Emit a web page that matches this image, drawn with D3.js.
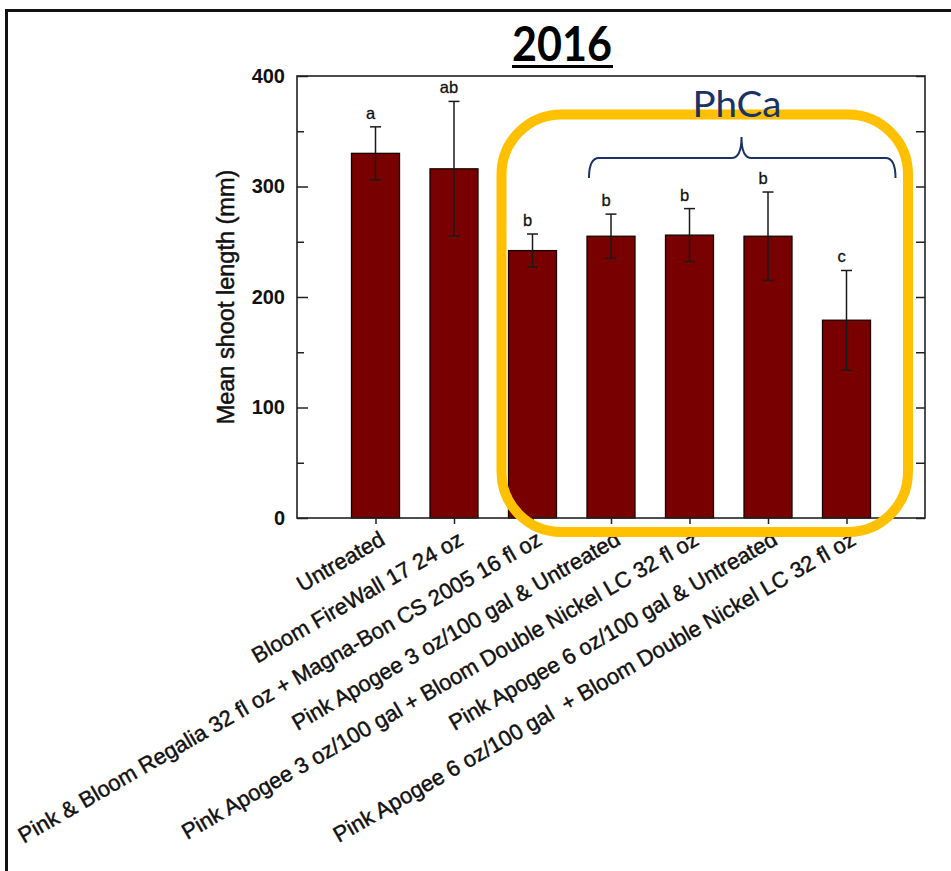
<!DOCTYPE html>
<html>
<head>
<meta charset="utf-8">
<script src="https://cdn.jsdelivr.net/npm/d3@7"></script>
<style>
  html, body { margin: 0; padding: 0; background: #fff; }
  svg { display: block; }
</style>
</head>
<body>
<svg id="chart" width="951" height="871"></svg>
<script>
// Treatments, mean shoot length (mm), standard errors and mean-separation letters
const categories = [
  "Untreated",
  "Bloom FireWall 17 24 oz",
  "Pink & Bloom Regalia 32 fl oz + Magna-Bon CS 2005 16 fl oz",
  "Pink Apogee 3 oz/100 gal & Untreated",
  "Pink Apogee 3 oz/100 gal + Bloom Double Nickel LC 32 fl oz",
  "Pink Apogee 6 oz/100 gal & Untreated",
  "Pink Apogee 6 oz/100 gal  + Bloom Double Nickel LC 32 fl oz"
];
const means = [330, 316, 242, 255, 256, 255, 179];
const errors = [24, 61, 15, 20, 24, 40, 45];
const letters = ["a", "ab", "b", "b", "b", "b", "c"];
const yTicks = [0, 100, 200, 300, 400];
const yMinorTicks = [50, 150, 250, 350];
const title = "2016";
const groupLabel = "PhCa";
const groupMembers = categories.slice(3); // PhCa treatments under the brace
const yTitle = "Mean shoot length (mm)";

const svg = d3.select("#chart");
const plot = { left: 297, right: 925, top: 76, bottom: 518 };

const x = d3.scalePoint().domain(categories).range([plot.left, plot.right]).padding(1);
const y = d3.scaleLinear().domain([0, 400]).range([plot.bottom, plot.top]);
const barW = 48;
const sans = "'Liberation Sans', Arial, Helvetica, sans-serif";
const ink = "#111";

// Slide frame
svg.append("path")
  .attr("d", "M6.5,871 L6.5,10.5 L951,10.5")
  .attr("fill", "none").attr("stroke", "#111").attr("stroke-width", 3);

// Title
svg.append("text")
  .attr("x", 562).attr("y", 61)
  .attr("text-anchor", "middle")
  .attr("font-family", "Lato, 'Liberation Sans', sans-serif")
  .attr("font-weight", "bold").attr("font-size", 47)
  .attr("textLength", 100).attr("lengthAdjust", "spacingAndGlyphs")
  .attr("fill", "#000").text(title);
svg.append("line")
  .attr("x1", 512).attr("x2", 613).attr("y1", 66.5).attr("y2", 66.5)
  .attr("stroke", "#000").attr("stroke-width", 3);

// Bars
svg.append("g").selectAll("rect").data(categories).join("rect")
  .attr("x", d => x(d) - barW / 2)
  .attr("width", barW)
  .attr("y", (d, i) => y(means[i]))
  .attr("height", (d, i) => y(0) - y(means[i]))
  .attr("fill", "#780000")
  .attr("stroke", "#1a0000").attr("stroke-width", 1.3);

// Error bars
const eb = svg.append("g").attr("stroke", "#1a1a1a").attr("stroke-width", 1.5);
categories.forEach((c, i) => {
  const cx = x(c), hi = y(means[i] + errors[i]), lo = y(means[i] - errors[i]);
  eb.append("line").attr("x1", cx).attr("x2", cx).attr("y1", hi).attr("y2", lo);
  eb.append("line").attr("x1", cx - 5.5).attr("x2", cx + 5.5).attr("y1", hi).attr("y2", hi);
  eb.append("line").attr("x1", cx - 5.5).attr("x2", cx + 5.5).attr("y1", lo).attr("y2", lo);
});

// Significance letters
svg.append("g").selectAll("text").data(categories).join("text")
  .attr("x", d => x(d) - 5)
  .attr("y", (d, i) => y(means[i] + errors[i]) - 8)
  .attr("text-anchor", "middle")
  .attr("font-family", sans).attr("font-size", 16.5).attr("fill", ink)
  .attr("stroke", ink).attr("stroke-width", 0.3)
  .text((d, i) => letters[i]);

// Axes
const yAxis = d3.axisLeft(y).tickValues(yTicks).tickSizeInner(-11).tickSizeOuter(0).tickPadding(12);
const gy = svg.append("g").attr("transform", `translate(${plot.left},0)`).call(yAxis);
gy.select(".domain").remove();
gy.selectAll(".tick line").attr("stroke", "#222").attr("stroke-width", 1.5);
gy.selectAll(".tick text").attr("font-family", sans).attr("font-weight", "bold")
  .attr("font-size", 20).attr("fill", ink);

const yMinor = d3.axisLeft(y).tickValues(yMinorTicks).tickSizeInner(-7).tickSizeOuter(0).tickFormat("");
const gym = svg.append("g").attr("transform", `translate(${plot.left},0)`).call(yMinor);
gym.select(".domain").remove();
gym.selectAll(".tick line").attr("stroke", "#222").attr("stroke-width", 1.5);

const yRight = d3.axisRight(y).tickValues(yTicks.concat(yMinorTicks)).tickSizeInner(-9).tickSizeOuter(0).tickFormat("");
const gr = svg.append("g").attr("transform", `translate(${plot.right},0)`).call(yRight);
gr.select(".domain").remove();
gr.selectAll(".tick line").attr("stroke", "#222").attr("stroke-width", 1.5);

const xAxis = d3.axisBottom(x).tickSizeInner(6).tickSizeOuter(0).tickFormat("");
const gx = svg.append("g").attr("transform", `translate(0,${plot.bottom})`).call(xAxis);
gx.select(".domain").remove();
gx.selectAll(".tick line").attr("stroke", "#222").attr("stroke-width", 1.5);

// Frame around the plot area
svg.append("rect")
  .attr("x", plot.left).attr("y", plot.top)
  .attr("width", plot.right - plot.left).attr("height", plot.bottom - plot.top)
  .attr("fill", "none").attr("stroke", "#222").attr("stroke-width", 1.6);

// Rotated treatment labels
svg.append("g").selectAll("text").data(categories).join("text")
  .attr("transform", d => `translate(${x(d) + 7},537) rotate(-30)`)
  .attr("dy", "0.35em")
  .attr("text-anchor", "end")
  .attr("font-family", sans).attr("font-size", 22.1).attr("fill", ink)
  .attr("stroke", ink).attr("stroke-width", 0.45)
  .style("white-space", "pre")
  .text(d => d);

// Y axis title
svg.append("text")
  .attr("transform", "translate(226,297) rotate(-90)")
  .attr("dy", "0.35em")
  .attr("text-anchor", "middle")
  .attr("font-family", sans).attr("font-size", 23.5).attr("fill", ink)
  .attr("stroke", ink).attr("stroke-width", 0.5)
  .text(yTitle);

// PhCa highlight box
svg.append("rect")
  .attr("x", 501.5).attr("y", 114.5)
  .attr("width", 908 - 501.5).attr("height", 532 - 114.5)
  .attr("rx", 60).attr("ry", 60)
  .attr("fill", "none").attr("stroke", "#FFC000").attr("stroke-width", 10);

// Brace over the PhCa treatments
const bx0 = x(groupMembers[0]) - 22, bx1 = x(groupMembers[groupMembers.length - 1]) + 49;
const bm = 741.5, by = 158, bEnd = 178, bTip = 137;
svg.append("path")
  .attr("d", `M${bx0},${bEnd} Q${bx0},${by} ${bx0 + 10},${by} L${bm - 10},${by} Q${bm},${by} ${bm},${bTip}
              Q${bm},${by} ${bm + 10},${by} L${bx1 - 10},${by} Q${bx1},${by} ${bx1},${bEnd}`)
  .attr("fill", "none").attr("stroke", "#1B3266").attr("stroke-width", 2);

svg.append("text")
  .attr("x", 737).attr("y", 117)
  .attr("text-anchor", "middle")
  .attr("font-family", "Lato, 'Open Sans', sans-serif")
  .attr("font-size", 37)
  .attr("textLength", 89).attr("lengthAdjust", "spacingAndGlyphs")
  .attr("fill", "#1B3266")
  .text(groupLabel);
</script>
</body>
</html>
